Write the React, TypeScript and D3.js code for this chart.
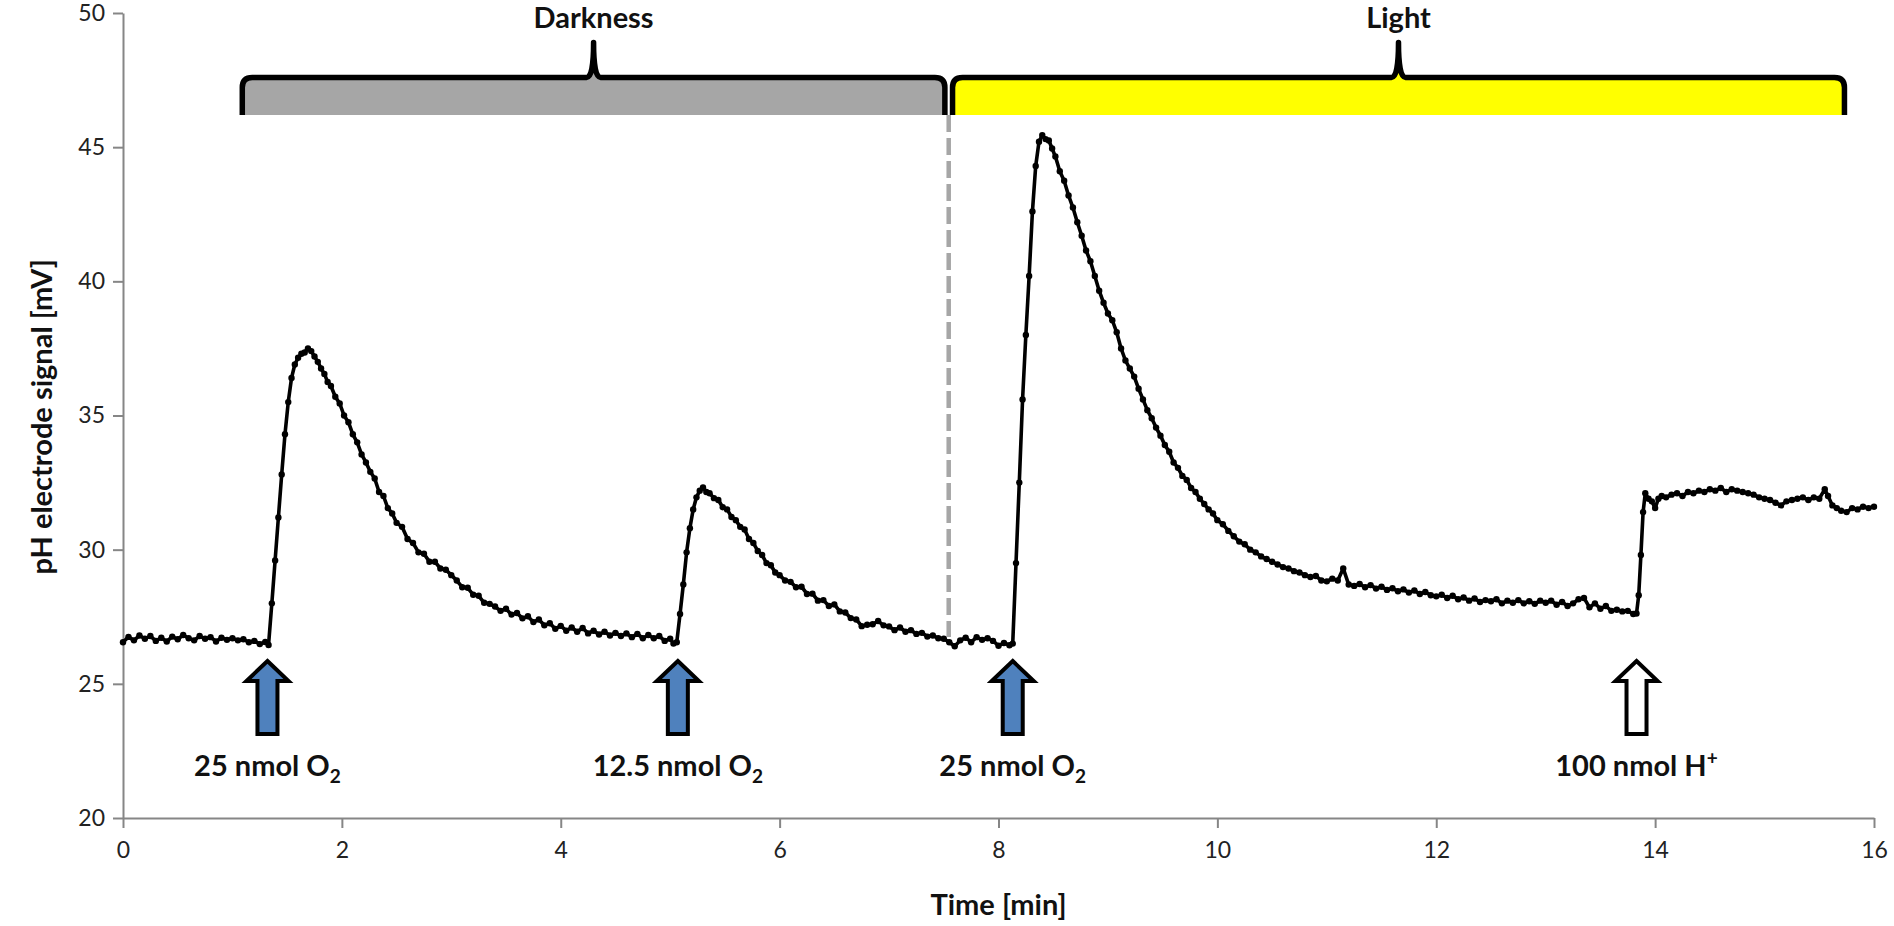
import React, { useEffect, useRef } from 'react';
import * as d3 from 'd3';

// pH electrode trace, [time (min), signal (mV)]
const darkBaseline: [number, number][] = [
  [0.0, 26.55], [0.05, 26.75], [0.1, 26.62], [0.15, 26.8], [0.2, 26.68], [0.25, 26.78],
  [0.3, 26.6], [0.35, 26.72], [0.4, 26.58], [0.45, 26.76], [0.5, 26.66], [0.55, 26.82],
  [0.6, 26.7], [0.65, 26.62], [0.7, 26.78], [0.75, 26.68], [0.8, 26.74], [0.85, 26.58],
  [0.9, 26.72], [0.95, 26.64], [1.0, 26.7], [1.05, 26.62], [1.1, 26.66], [1.15, 26.55],
  [1.2, 26.6], [1.25, 26.48], [1.3, 26.56], [1.33, 26.45],
];

const firstPulse: [number, number][] = [
  [1.36, 28.0], [1.39, 29.6], [1.42, 31.2], [1.45, 32.8], [1.48, 34.3], [1.51, 35.5],
  [1.54, 36.4], [1.57, 36.9], [1.6, 37.15], [1.63, 37.3], [1.66, 37.35], [1.69, 37.5],
  [1.72, 37.4], [1.75, 37.2], [1.78, 37.0], [1.81, 36.75], [1.84, 36.55], [1.87, 36.25],
  [1.9, 36.1], [1.94, 35.7], [1.98, 35.45], [2.02, 35.0], [2.06, 34.75], [2.1, 34.3],
  [2.14, 34.0], [2.18, 33.55], [2.22, 33.25], [2.26, 32.9], [2.3, 32.65], [2.34, 32.15],
  [2.38, 32.0], [2.42, 31.55], [2.46, 31.35], [2.5, 31.0], [2.55, 30.85], [2.6, 30.4],
  [2.65, 30.25], [2.7, 29.9], [2.75, 29.85], [2.8, 29.55], [2.85, 29.55], [2.9, 29.3],
  [2.95, 29.25], [3.0, 29.05], [3.05, 28.85], [3.1, 28.6], [3.15, 28.58], [3.2, 28.32],
  [3.25, 28.28], [3.3, 28.02], [3.35, 27.98], [3.4, 27.88], [3.45, 27.72], [3.5, 27.8],
  [3.55, 27.58], [3.6, 27.64], [3.65, 27.44], [3.7, 27.52], [3.75, 27.3], [3.8, 27.4],
  [3.85, 27.18], [3.9, 27.26], [3.95, 27.05], [4.0, 27.16], [4.05, 26.98], [4.1, 27.1],
  [4.15, 26.94], [4.2, 27.08], [4.25, 26.88], [4.3, 26.98], [4.35, 26.84], [4.4, 26.94],
  [4.45, 26.8], [4.5, 26.9], [4.55, 26.78], [4.6, 26.88], [4.65, 26.74], [4.7, 26.86],
  [4.75, 26.7], [4.8, 26.82], [4.85, 26.7], [4.9, 26.78], [4.95, 26.6], [5.0, 26.68],
  [5.03, 26.5], [5.06, 26.55],
];

const secondPulse: [number, number][] = [
  [5.09, 27.6], [5.12, 28.7], [5.15, 29.9], [5.18, 30.8], [5.21, 31.5], [5.24, 31.95],
  [5.27, 32.2], [5.3, 32.32], [5.33, 32.15], [5.36, 32.1], [5.4, 31.92], [5.44, 31.85],
  [5.48, 31.58], [5.52, 31.5], [5.56, 31.22], [5.6, 31.1], [5.64, 30.85], [5.68, 30.75],
  [5.72, 30.4], [5.76, 30.25], [5.8, 29.95], [5.84, 29.8], [5.88, 29.5], [5.92, 29.42],
  [5.96, 29.15], [6.0, 29.05], [6.05, 28.85], [6.1, 28.8], [6.15, 28.6], [6.2, 28.62],
  [6.25, 28.35], [6.3, 28.36], [6.35, 28.1], [6.4, 28.12], [6.45, 27.9], [6.5, 27.96],
  [6.55, 27.7], [6.6, 27.66], [6.65, 27.45], [6.7, 27.4], [6.75, 27.15], [6.8, 27.2],
  [6.85, 27.22], [6.9, 27.34], [6.95, 27.18], [7.0, 27.14], [7.05, 27.0], [7.1, 27.1],
  [7.15, 26.94], [7.2, 27.0], [7.25, 26.86], [7.3, 26.9], [7.35, 26.76], [7.4, 26.8],
  [7.45, 26.7], [7.5, 26.68], [7.55, 26.55], [7.6, 26.4], [7.65, 26.62], [7.7, 26.72],
  [7.75, 26.55], [7.8, 26.74], [7.85, 26.64], [7.9, 26.7], [7.95, 26.6], [8.0, 26.42],
  [8.05, 26.52], [8.1, 26.44], [8.13, 26.5],
];

const lightPulse: [number, number][] = [
  [8.16, 29.5], [8.19, 32.5], [8.22, 35.6], [8.25, 38.0], [8.28, 40.2], [8.31, 42.6],
  [8.34, 44.3], [8.37, 45.2], [8.4, 45.45], [8.43, 45.3], [8.46, 45.25], [8.49, 44.95],
  [8.52, 44.65], [8.56, 44.1], [8.6, 43.75], [8.64, 43.2], [8.68, 42.75], [8.72, 42.2],
  [8.76, 41.7], [8.8, 41.15], [8.84, 40.75], [8.88, 40.2], [8.92, 39.65], [8.96, 39.2],
  [9.0, 38.8], [9.04, 38.55], [9.08, 38.1], [9.12, 37.5], [9.16, 37.05], [9.2, 36.75],
  [9.24, 36.45], [9.28, 36.0], [9.32, 35.6], [9.36, 35.2], [9.4, 34.9], [9.44, 34.55],
  [9.48, 34.25], [9.52, 33.9], [9.56, 33.65], [9.6, 33.25], [9.64, 33.05], [9.68, 32.75],
  [9.72, 32.6], [9.76, 32.3], [9.8, 32.15], [9.84, 31.9], [9.88, 31.7], [9.92, 31.5],
  [9.96, 31.35], [10.0, 31.1], [10.05, 30.95], [10.1, 30.7], [10.15, 30.5], [10.2, 30.3],
  [10.25, 30.2], [10.3, 30.0], [10.35, 29.9], [10.4, 29.75], [10.45, 29.65], [10.5, 29.55],
  [10.55, 29.45], [10.6, 29.35], [10.65, 29.3], [10.7, 29.2], [10.75, 29.15], [10.8, 29.05],
  [10.85, 28.98], [10.9, 29.02], [10.95, 28.85], [11.0, 28.82], [11.05, 28.92], [11.1, 28.85],
  [11.15, 29.3], [11.2, 28.7], [11.25, 28.65], [11.3, 28.72], [11.35, 28.6], [11.4, 28.68],
  [11.45, 28.55], [11.5, 28.62], [11.55, 28.5], [11.6, 28.56], [11.65, 28.45], [11.7, 28.52],
  [11.75, 28.4], [11.8, 28.48], [11.85, 28.35], [11.9, 28.42], [11.95, 28.3], [12.0, 28.26],
  [12.05, 28.32], [12.1, 28.2], [12.15, 28.28], [12.2, 28.15], [12.25, 28.22], [12.3, 28.1],
  [12.35, 28.18], [12.4, 28.05], [12.45, 28.12], [12.5, 28.08], [12.55, 28.15], [12.6, 28.0],
  [12.65, 28.1], [12.7, 28.02], [12.75, 28.12], [12.8, 28.0], [12.85, 28.08], [12.9, 27.98],
  [12.95, 28.1], [13.0, 28.02], [13.05, 28.1], [13.1, 27.95], [13.15, 28.05], [13.2, 27.9],
  [13.25, 28.0], [13.3, 28.15], [13.35, 28.2], [13.4, 27.85], [13.45, 28.0], [13.5, 27.8],
  [13.55, 27.9], [13.6, 27.72], [13.65, 27.76], [13.7, 27.7], [13.75, 27.72], [13.8, 27.6],
  [13.83, 27.62],
];

const protonStep: [number, number][] = [
  [13.85, 28.3], [13.87, 29.8], [13.89, 31.4], [13.91, 32.1], [13.94, 31.9], [13.97, 31.8],
  [14.0, 31.55], [14.03, 31.9], [14.06, 32.0], [14.1, 31.95], [14.15, 32.05], [14.2, 32.1],
  [14.25, 32.0], [14.3, 32.15], [14.35, 32.1], [14.4, 32.2], [14.45, 32.15], [14.5, 32.25],
  [14.55, 32.2], [14.6, 32.3], [14.65, 32.15], [14.7, 32.25], [14.75, 32.2], [14.8, 32.15],
  [14.85, 32.1], [14.9, 32.05], [14.95, 31.95], [15.0, 31.9], [15.05, 31.85], [15.1, 31.75],
  [15.15, 31.65], [15.2, 31.8], [15.25, 31.85], [15.3, 31.9], [15.35, 31.95], [15.4, 31.85],
  [15.45, 31.95], [15.5, 31.9], [15.55, 32.25], [15.58, 32.0], [15.62, 31.65], [15.66, 31.55],
  [15.7, 31.45], [15.75, 31.4], [15.8, 31.55], [15.85, 31.5], [15.9, 31.6], [15.95, 31.55],
  [16.0, 31.6],
];

// Illumination phases (min)
const phases = [
  { name: 'Darkness', start: 1.09, end: 7.51 },
  { name: 'Light', start: 7.58, end: 15.73 },
];
const phaseColors: Record<string, string> = { Darkness: '#a6a6a6', Light: '#ffff00' };
const lightOnTime = 7.545;

// Additions (min)
const injections = [
  { time: 1.32, amount: '25 nmol ', species: 'O', index: '2', kind: 'sub' },
  { time: 5.07, amount: '12.5 nmol ', species: 'O', index: '2', kind: 'sub' },
  { time: 8.13, amount: '25 nmol ', species: 'O', index: '2', kind: 'sub' },
  { time: 13.83, amount: '100 nmol ', species: 'H', index: '+', kind: 'sup' },
];

const xTicks = [0, 2, 4, 6, 8, 10, 12, 14, 16];
const yTicks = [20, 25, 30, 35, 40, 45, 50];

const WIDTH = 1894;
const HEIGHT = 926;
const FONT = 'Lato, "Open Sans", sans-serif';
const AXIS_COLOR = '#868686';

export default function App() {
  const svgRef = useRef<SVGSVGElement>(null);

  useEffect(() => {
    const svg = d3.select(svgRef.current);
    svg.selectAll('*').remove();

    const x = d3.scaleLinear().domain([0, 16]).range([123, 1874]);
    const y = d3.scaleLinear().domain([20, 50]).range([818, 13]);

    // phase braces
    const braceTop = y(47.6);
    const braceBottom = y(46.2);
    const bracePeak = y(48.9);
    const bracePath = (x0: number, x1: number) => {
      const r = 10;
      const c = 7;
      const xm = (x0 + x1) / 2;
      return `M${x0},${braceBottom} L${x0},${braceTop + r} Q${x0},${braceTop} ${x0 + r},${braceTop}` +
        ` L${xm - c},${braceTop} Q${xm},${braceTop} ${xm},${bracePeak} Q${xm},${braceTop} ${xm + c},${braceTop}` +
        ` L${x1 - r},${braceTop} Q${x1},${braceTop} ${x1},${braceTop + r} L${x1},${braceBottom}`;
    };

    const phaseG = svg.append('g');
    phases.forEach(p => {
      phaseG.append('path')
        .attr('d', bracePath(x(p.start), x(p.end)))
        .attr('fill', phaseColors[p.name])
        .attr('stroke', '#000')
        .attr('stroke-width', 5.5)
        .attr('stroke-linejoin', 'round');
      phaseG.append('text')
        .attr('x', x((p.start + p.end) / 2))
        .attr('y', y(49.45))
        .attr('text-anchor', 'middle')
        .style('font-family', FONT)
        .style('font-weight', 700)
        .style('font-size', '29px')
        .style('fill', '#111')
        .text(p.name);
    });

    // light switched on
    svg.append('line')
      .attr('x1', x(lightOnTime)).attr('x2', x(lightOnTime))
      .attr('y1', braceBottom).attr('y2', y(26.75))
      .attr('stroke', '#a6a6a6')
      .attr('stroke-width', 4.5)
      .attr('stroke-dasharray', '17 6');

    // axes
    const yAxis = d3.axisLeft(y).tickValues(yTicks).tickSize(10).tickSizeOuter(0).tickPadding(8);
    const xAxis = d3.axisBottom(x).tickValues(xTicks).tickSize(10).tickSizeOuter(0).tickPadding(14);

    const styleAxis = (g: d3.Selection<SVGGElement, unknown, null, undefined>) => {
      g.select('.domain').attr('stroke', AXIS_COLOR).attr('stroke-width', 2);
      g.selectAll('.tick line').attr('stroke', AXIS_COLOR).attr('stroke-width', 2);
      g.selectAll('.tick text')
        .style('font-family', FONT)
        .style('font-size', '23px')
        .style('fill', '#222');
    };

    svg.append('g').attr('transform', 'translate(123,0)').call(yAxis).call(styleAxis);
    svg.append('g').attr('transform', 'translate(0,818)').call(xAxis).call(styleAxis);

    svg.append('text')
      .attr('x', x(8))
      .attr('y', 915)
      .attr('text-anchor', 'middle')
      .style('font-family', FONT)
      .style('font-weight', 700)
      .style('font-size', '29px')
      .style('fill', '#111')
      .text('Time [min]');

    svg.append('text')
      .attr('transform', `translate(52,${y(34.95)}) rotate(-90)`)
      .attr('text-anchor', 'middle')
      .style('font-family', FONT)
      .style('font-weight', 700)
      .style('font-size', '29px')
      .style('fill', '#111')
      .text('pH electrode signal [mV]');

    // trace
    const trace = [...darkBaseline, ...firstPulse, ...secondPulse, ...lightPulse, ...protonStep];
    const line = d3.line<[number, number]>().x(d => x(d[0])).y(d => y(d[1]));

    svg.append('path')
      .datum(trace)
      .attr('d', line)
      .attr('fill', 'none')
      .attr('stroke', '#000')
      .attr('stroke-width', 3.6)
      .attr('stroke-linejoin', 'round');

    svg.append('g')
      .selectAll('circle')
      .data(trace)
      .enter()
      .append('circle')
      .attr('cx', d => x(d[0]))
      .attr('cy', d => y(d[1]))
      .attr('r', 3.2)
      .attr('fill', '#000');

    // injection arrows + labels
    const tipY = y(25.85);
    injections.forEach(inj => {
      const cx = x(inj.time);
      svg.append('path')
        .attr('d', `M${cx},${tipY} L${cx + 21},${tipY + 20} L${cx + 10},${tipY + 20} L${cx + 10},${tipY + 73}` +
          ` L${cx - 10},${tipY + 73} L${cx - 10},${tipY + 20} L${cx - 21},${tipY + 20} Z`)
        .attr('fill', inj.kind === 'sub' ? '#4f81bd' : '#fff')
        .attr('stroke', '#000')
        .attr('stroke-width', 4)
        .attr('stroke-linejoin', 'miter');

      const label = svg.append('text')
        .attr('x', cx)
        .attr('y', y(21.55))
        .attr('text-anchor', 'middle')
        .style('font-family', FONT)
        .style('font-weight', 700)
        .style('font-size', '29px')
        .style('fill', '#111');
      label.append('tspan').text(inj.amount + inj.species);
      label.append('tspan')
        .attr('dy', inj.kind === 'sub' ? 7 : -11)
        .style('font-size', '19px')
        .text(inj.index);
    });
  }, []);

  return (
    <svg
      ref={svgRef}
      width={WIDTH}
      height={HEIGHT}
      viewBox={`0 0 ${WIDTH} ${HEIGHT}`}
      style={{ position: 'absolute', left: 0, top: 0, background: '#fff' }}
    />
  );
}
